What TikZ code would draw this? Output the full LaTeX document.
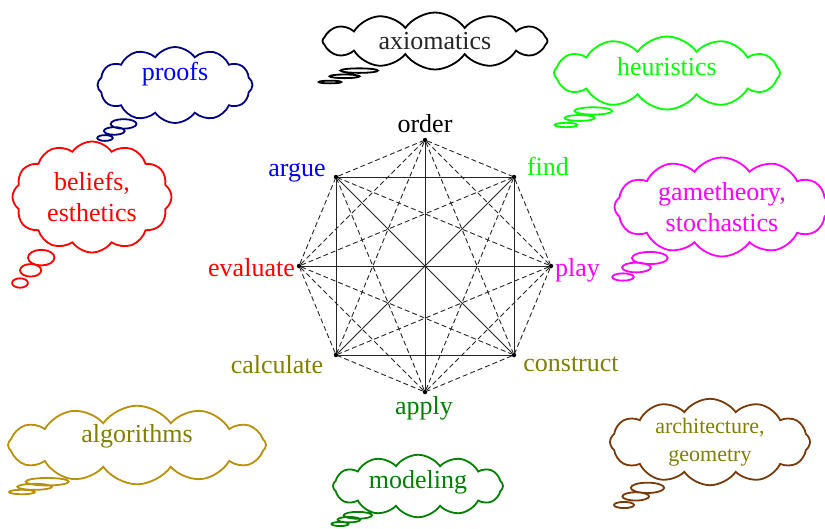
\documentclass[tikz,border=0pt]{standalone}
\usepackage{fontspec}
\setmainfont{Liberation Serif}
\usepackage{xcolor}
\usetikzlibrary{shapes.callouts,shapes.symbols}
\definecolor{mtNavy}{HTML}{000080}
\definecolor{mtGreen}{HTML}{00FF00}
\definecolor{mtDkGreen}{HTML}{008000}
\definecolor{mtOlive}{HTML}{808000}
\definecolor{mtGold}{HTML}{B8900A}
\definecolor{mtBrown}{HTML}{7A3A08}
\definecolor{mtMagenta}{HTML}{FF00FF}

\begin{document}
\begin{tikzpicture}[x=1pt,y=-1pt,
    vdot/.style={circle,fill=black,inner sep=0pt,minimum size=4.5pt},
    chord/.style={line width=0.9pt,black!85},
    dchord/.style={chord,dash pattern=on 5pt off 3pt},
    vlabel/.style={anchor=base,inner sep=0pt,font=\fontsize{26}{31}\selectfont},
    thought/.style={cloud callout,draw,fill=white,line width=1.8pt,
      cloud puffs=12,cloud puff arc=110,cloud ignores aspect,
      callout pointer segments=3,align=center,inner sep=0pt,
      font=\fontsize{26}{31}\selectfont}]
    \useasboundingbox (0,0) rectangle (825,528);

    % the eight activities
    \node[vdot] (order) at (425,140) {};
    \node[vdot] (find) at (514,177) {};
    \node[vdot] (play) at (551,266) {};
    \node[vdot] (construct) at (514,355) {};
    \node[vdot] (apply) at (425,392) {};
    \node[vdot] (calculate) at (336,355) {};
    \node[vdot] (evaluate) at (299,266) {};
    \node[vdot] (argue) at (336,177) {};

    \foreach \a/\b in {argue/find,find/construct,construct/calculate,calculate/argue,
        argue/construct,find/calculate,order/apply,evaluate/play}
      \draw[chord] (\a) -- (\b);
    \foreach \a/\b in {order/find,find/play,play/construct,construct/apply,
        apply/calculate,calculate/evaluate,evaluate/argue,argue/order,
        order/play,order/construct,order/calculate,order/evaluate,
        evaluate/find,evaluate/construct,evaluate/apply,
        play/argue,play/calculate,play/apply,apply/argue,apply/find}
      \draw[dchord] (\a) -- (\b);

    \node[vlabel] (orderlbl) at (425,132) {order};
    \node[vlabel,mtGreen] (findlbl) at (548,175) {find};
    \node[vlabel,blue] (arguelbl) at (297,176) {argue};
    \node[vlabel,mtMagenta,anchor=base west] (playlbl) at (555,276) {play};
    \node[vlabel,red,anchor=base east] (evaluatelbl) at (295,276) {evaluate};
    \node[vlabel,mtOlive] (calculatelbl) at (277,373) {calculate};
    \node[vlabel,mtOlive] (constructlbl) at (571,371) {construct};
    \node[vlabel,mtDkGreen] (applylbl) at (424,414) {apply};

    % thought bubbles
    \coordinate (axiomtip) at (330,82);
    \coordinate (proofstip) at (105,138);
    \coordinate (beliefstip) at (20,283);
    \coordinate (heurtip) at (566,125);
    \coordinate (gametip) at (623,277);
    \coordinate (algotip) at (22,492);
    \coordinate (modeltip) at (340,524);
    \coordinate (archtip) at (624,505);

    \node[thought,draw=black,text=black!85,minimum width=225pt,minimum height=57pt,
      callout absolute pointer={(axiomtip)}] (axiom) at (435,41) {axiomatics};
    \node[thought,draw=mtNavy,text=blue,minimum width=155pt,minimum height=75pt,
      text depth=28pt,callout absolute pointer={(proofstip)}] (proofs) at (175,85) {proofs};
    \node[thought,draw=red,text=red,minimum width=159pt,minimum height=111pt,
      callout absolute pointer={(beliefstip)}] (beliefs) at (92,197) {beliefs,\\esthetics};
    \node[thought,draw=mtGreen,text=mtGreen,minimum width=226pt,minimum height=73pt,
      text depth=14pt,callout absolute pointer={(heurtip)}] (heur) at (667,73) {heuristics};
    \node[thought,draw=mtMagenta,text=mtMagenta,minimum width=215pt,minimum height=99pt,
      callout absolute pointer={(gametip)}] (game) at (722,207) {gametheory,\\stochastics};
    \node[thought,draw=mtGold,text=mtOlive,minimum width=258pt,minimum height=66pt,
      text depth=24pt,callout absolute pointer={(algotip)}] (algo) at (137,445) {algorithms};
    \node[thought,draw=mtDkGreen,text=mtDkGreen,minimum width=170pt,minimum height=52pt,
      text depth=14pt,callout absolute pointer={(modeltip)}] (model) at (418,486) {modeling};
    \node[thought,draw=mtBrown,text=mtOlive,minimum width=200pt,minimum height=80pt,
      font=\fontsize{22}{28}\selectfont,
      callout absolute pointer={(archtip)}] (arch) at (710,442) {architecture,\\geometry};
\end{tikzpicture}
\end{document}
